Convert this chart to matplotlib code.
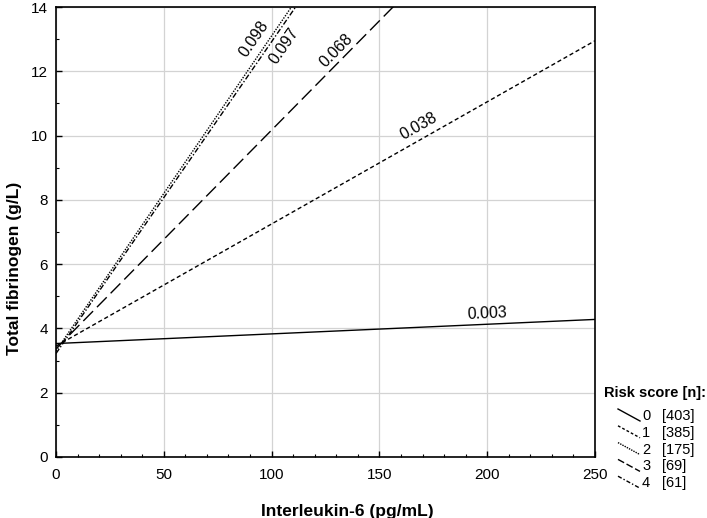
import numpy as np
import matplotlib
matplotlib.use("Agg")
import matplotlib.pyplot as plt
from matplotlib.lines import Line2D

plt.rcParams['font.family'] = ['Liberation Sans', 'DejaVu Sans']

# regression lines: fibrinogen = intercept + slope * IL-6
slopes = [0.003, 0.038, 0.068, 0.098, 0.097]
intercepts = [3.53, 3.45, 3.37, 3.30, 3.22]
styles = ['-', (0, (3, 2)), (0, (10, 4)), (0, (1, 1)), (0, (4, 1.5, 1, 1.5))]
# where the slope labels sit (x position along each line, offset in y)
label_x = [200, 168, 130, 92, 106]
label_dy = [0.33, 0.45, 0.45, 0.7, -0.7]

risk_scores = ['0', '1', '2', '3', '4']
risk_n = ['[403]', '[385]', '[175]', '[69]', '[61]']
legend_styles = ['-', (0, (2, 1.5)), (0, (1, 0.8)), (0, (5, 2)), (0, (3, 1.5, 1, 1.5))]

fig = plt.figure(figsize=(7.07, 5.18), dpi=100)
ax = fig.add_axes([56/707, 1 - 457/518, (595-56)/707, (457-7)/518])

xs = np.array([0, 250])
for s, b, ls in zip(slopes, intercepts, styles):
    ax.plot(xs, b + s*xs, color='black', lw=1.0, linestyle=ls)

ax.set_xlim(0, 250)
ax.set_ylim(0, 14)

fig.canvas.draw()
for s, b, lx, dy in zip(slopes, intercepts, label_x, label_dy):
    p1 = ax.transData.transform((0, b))
    p2 = ax.transData.transform((100, b + 100*s))
    ang = np.degrees(np.arctan2(p2[1]-p1[1], p2[0]-p1[0]))
    ax.text(lx, b + s*lx + dy, f"{s:.3f}", rotation=ang, rotation_mode='anchor',
            ha='center', va='center', fontsize=11.5)

ax.set_xticks([0, 50, 100, 150, 200, 250])
ax.set_yticks(np.arange(0, 15, 2))
ax.set_xticks(np.arange(0, 251, 10), minor=True)
ax.set_yticks(np.arange(0, 15, 1), minor=True)
ax.tick_params(which='both', direction='in', labelsize=11)
ax.tick_params(which='major', length=4, width=1)
ax.tick_params(which='minor', length=2.5, width=0.8)
ax.tick_params(axis='x', pad=8)
ax.tick_params(axis='y', pad=6)
ax.grid(True, which='major', color='#d3d3d3', lw=0.9)
ax.set_axisbelow(True)
for sp in ax.spines.values():
    sp.set_linewidth(1.2)

ax.set_xlabel('Interleukin-6 (pg/mL)', fontsize=12.5, fontweight='bold')
ax.xaxis.set_label_coords(0.54, -0.105)
ax.set_ylabel('Total fibrinogen (g/L)', fontsize=12.5, fontweight='bold')
ax.yaxis.set_label_coords(-0.064, 0.42)

# legend at the lower right, outside the axes
W, H = 707, 518
fig.text(604/W, 1 - 393/H, 'Risk score [n]:', fontsize=10.5, fontweight='bold',
         ha='left', va='center')
for i, (r, n, ls) in enumerate(zip(risk_scores, risk_n, legend_styles)):
    yc = 416 + i*16.8
    fig.add_artist(Line2D([618/W, 640/W], [1 - (yc-7)/H, 1 - (yc+5)/H],
                          color='black', lw=1.0, linestyle=ls))
    fig.text(642/W, 1 - yc/H, r, fontsize=10.5, ha='left', va='center')
    fig.text(662/W, 1 - yc/H, n, fontsize=10.5, ha='left', va='center')

fig.savefig('out.png', dpi=100)
